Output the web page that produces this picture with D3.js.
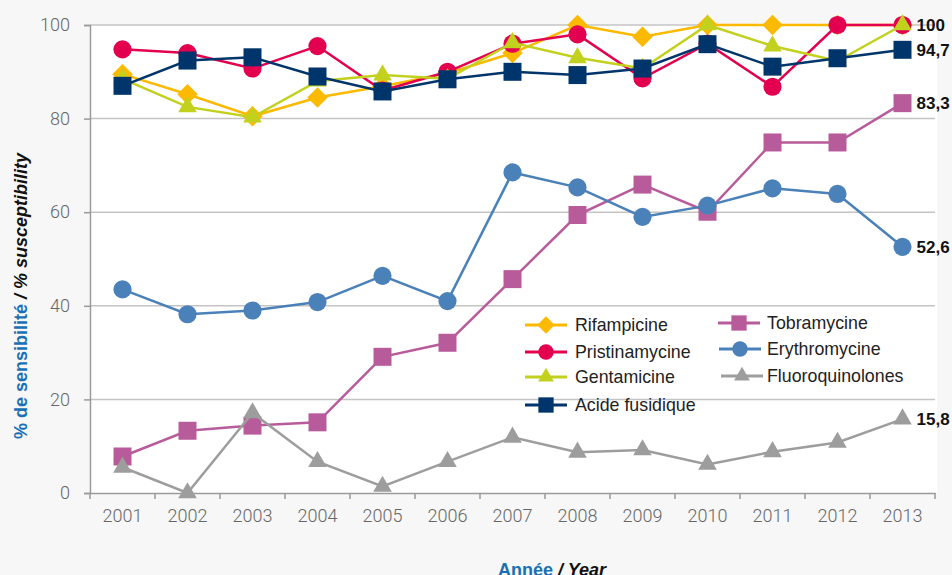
<!DOCTYPE html>
<html>
<head>
<meta charset="utf-8">
<script src="https://cdn.jsdelivr.net/npm/d3@7"></script>
<style>
  body { margin: 0; background: #f7f7f7; }
  .tick text { font-family: Roboto, "Liberation Sans", sans-serif; font-weight: 300; fill: #666; font-size: 18px; }
  .legend text { font-family: "Liberation Sans", Arial, sans-serif; font-size: 17.8px; fill: #222; }
  .endlabel { font-family: "Liberation Sans", Arial, sans-serif; font-weight: bold; font-size: 17px; fill: #111; }
  .title { font-family: "Liberation Sans", Arial, sans-serif; font-weight: bold; font-size: 18px; }
</style>
</head>
<body>
<div class="boundary"></div>
<script>
// data
var years = ["2001","2002","2003","2004","2005","2006","2007","2008","2009","2010","2011","2012","2013"];
var rifampicine    = [89.5, 85.2, 80.5, 84.5, 86.9, 89.7, 94.0, 100, 97.5, 100, 100, 100, 100];
var pristinamycine = [94.8, 94.0, 90.7, 95.5, 86.0, 90.0, 96.0, 98.0, 88.6, 96.0, 86.8, 100, 100];
var gentamicine    = [88.5, 82.5, 80.3, 88.0, 89.3, 88.5, 96.2, 93.0, 90.7, 100, 95.5, 92.3, 100];
var acideFusidique = [87.0, 92.4, 93.1, 89.0, 85.8, 88.4, 90.0, 89.3, 90.7, 95.9, 91.1, 92.9, 94.7];
var tobramycine    = [7.8, 13.3, 14.4, 15.1, 29.1, 32.1, 45.7, 59.4, 65.9, 60.1, 74.9, 74.9, 83.3];
var erythromycine  = [43.5, 38.2, 39.0, 40.8, 46.4, 41.0, 68.5, 65.3, 59.0, 61.4, 65.1, 63.9, 52.6];
var fluoroquinolones = [5.5, 0, 17.1, 6.7, 1.4, 6.7, 11.9, 8.7, 9.2, 6.1, 8.8, 10.8, 15.8];
var yTicks = [0, 20, 40, 60, 80, 100];
var labelled = ["Rifampicine", "Acide fusidique", "Tobramycine", "Erythromycine", "Fluoroquinolones"];

var series = [
  {name:"Rifampicine", values:rifampicine, color:"#fbb900", shape:"diamond"},
  {name:"Pristinamycine", values:pristinamycine, color:"#e3004f", shape:"circle"},
  {name:"Gentamicine", values:gentamicine, color:"#c2d01e", shape:"triangle"},
  {name:"Acide fusidique", values:acideFusidique, color:"#00356b", shape:"square"},
  {name:"Tobramycine", values:tobramycine, color:"#b85b9b", shape:"square"},
  {name:"Erythromycine", values:erythromycine, color:"#4b81b9", shape:"circle"},
  {name:"Fluoroquinolones", values:fluoroquinolones, color:"#9d9d9d", shape:"triangle"}
];

var width = 952;
var height = 575;
var plotL = 90, plotR = 935, plotT = 25, plotB = 493;

var svg = d3.select(".boundary").append("svg")
            .attr("width", width).attr("height", height)
            .style("display", "block");

svg.append("rect").attr("x", plotL).attr("y", plotT)
   .attr("width", plotR - plotL + 2).attr("height", plotB - plotT)
   .attr("fill", "#fff");

var x = d3.scaleBand().domain(years).range([plotL, plotR]).padding(0);
var y = d3.scaleLinear().domain([0, 100]).range([plotB, plotT]);
var cx = function(i){ return x(years[i]) + x.bandwidth() / 2; };

// grid lines
svg.append("g").selectAll("line").data(yTicks.filter(function(d){ return d > 0; }))
   .enter().append("line")
   .attr("x1", plotL).attr("x2", plotR)
   .attr("y1", function(d){ return y(d); }).attr("y2", function(d){ return y(d); })
   .attr("stroke", "#c4c4c4").attr("stroke-width", 1.5);

// y axis
var yAxis = svg.append("g").attr("transform", "translate(" + plotL + ",0)")
   .call(d3.axisLeft(y).tickValues(yTicks).tickSize(6).tickPadding(14));
yAxis.select(".domain").attr("stroke", "#9a9a9a").attr("stroke-width", 1.5);
yAxis.selectAll(".tick line").attr("stroke", "#9a9a9a").attr("stroke-width", 1.5);

// x axis: labels in the middle of each year, ticks between years
var xAxis = svg.append("g").attr("transform", "translate(0," + plotB + ")")
   .call(d3.axisBottom(x).tickSize(0).tickPadding(16));
xAxis.select(".domain").attr("stroke", "#9a9a9a").attr("stroke-width", 1.5);
var bounds = years.map(function(d){ return x(d); }).concat([plotR]);
svg.append("g").selectAll("line").data(bounds).enter().append("line")
   .attr("x1", function(d){ return d; }).attr("x2", function(d){ return d; })
   .attr("y1", plotB).attr("y2", plotB + 6)
   .attr("stroke", "#9a9a9a").attr("stroke-width", 1.5);

var symbolFor = {
  circle: d3.symbol().type(d3.symbolCircle).size(260),
  square: d3.symbol().type(d3.symbolSquare).size(324),
  diamond: d3.symbol().type(d3.symbolSquare).size(210),
  triangle: d3.symbol().type(d3.symbolTriangle).size(150)
};
var rotate = function(shape){ return shape === "diamond" ? " rotate(45)" : ""; };

var line = d3.line().x(function(d, i){ return cx(i); }).y(function(d){ return y(d); });

series.forEach(function(s){
  var g = svg.append("g");
  g.append("path").attr("d", line(s.values))
   .attr("fill", "none").attr("stroke", s.color).attr("stroke-width", 2.5);
  g.selectAll("path.mark").data(s.values).enter().append("path").classed("mark", true)
   .attr("d", symbolFor[s.shape])
   .attr("transform", function(d, i){ return "translate(" + cx(i) + "," + y(d) + ")" + rotate(s.shape); })
   .attr("fill", s.color);
  if (labelled.indexOf(s.name) >= 0) {
    var last = s.values[s.values.length - 1];
    g.append("text").classed("endlabel", true)
     .attr("x", cx(s.values.length - 1) + 14).attr("y", y(last))
     .attr("dy", "0.36em")
     .text(String(last).replace(".", ","));
  }
});

// legend
var legendPos = [
  [546, 325], [546, 352], [546, 377], [546, 405],
  [739, 323], [740, 349], [742, 376]
];
var legend = svg.append("g").classed("legend", true).selectAll("g").data(series).enter()
   .append("g").attr("transform", function(d, i){ return "translate(" + legendPos[i][0] + "," + legendPos[i][1] + ")"; });
legend.append("line").attr("x1", -21).attr("x2", 21)
      .attr("stroke", function(d){ return d.color; }).attr("stroke-width", 3);
legend.append("path")
      .attr("d", function(d){ return symbolFor[d.shape](); })
      .attr("transform", function(d){ return "scale(0.85)" + rotate(d.shape); })
      .attr("fill", function(d){ return d.color; });
legend.append("text").attr("x", function(d, i){ return i < 4 ? 29 : 28 + (739 - legendPos[i][0]); }).attr("dy", "0.36em")
      .text(function(d){ return d.name; });

// axis titles
var yt = svg.append("text").classed("title", true)
   .attr("transform", "translate(27,296) rotate(-90)").attr("text-anchor", "middle");
yt.append("tspan").attr("fill", "#1a70b5").text("% de sensibilité ");
yt.append("tspan").attr("fill", "#111").attr("font-style", "italic").text("/ % susceptibility");

var xt = svg.append("text").classed("title", true).attr("x", 498).attr("y", 576);
xt.append("tspan").attr("fill", "#1a70b5").text("Année ");
xt.append("tspan").attr("fill", "#111").attr("font-style", "italic").text("/ Year");
</script>
</body>
</html>
